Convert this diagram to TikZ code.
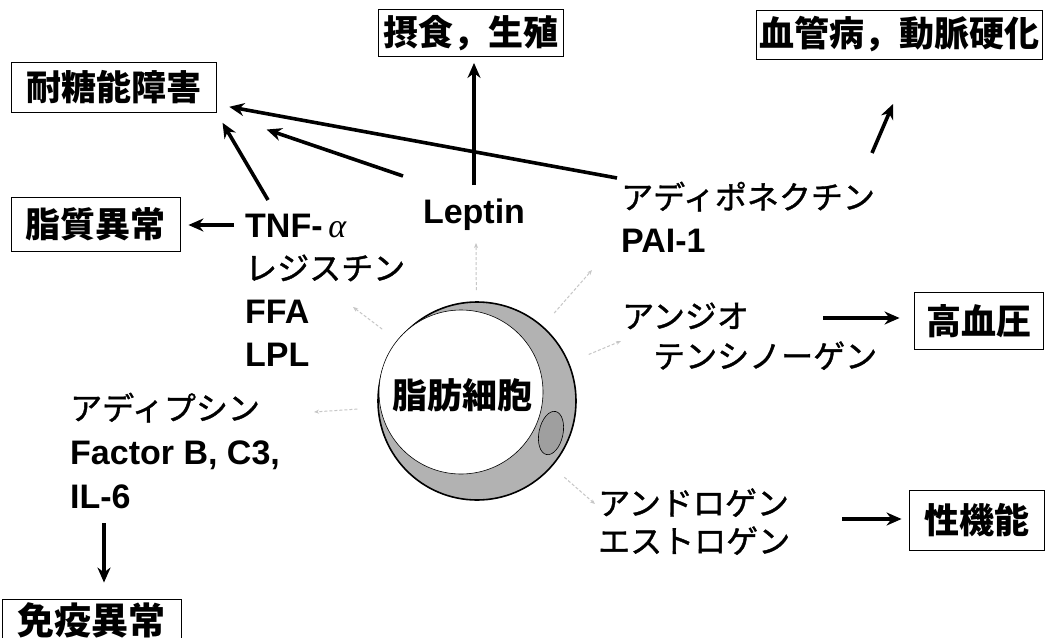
\documentclass[tikz,border=0pt]{standalone}
\usepackage{fontspec}
\setmainfont{Liberation Sans}
\newfontfamily\jp{Noto Sans CJK JP}
\newfontfamily\jpm{Noto Sans CJK JP}[FakeBold=1.2]
\newfontfamily\greek{Liberation Serif}
\usepackage{tikz}
\usetikzlibrary{arrows.meta,positioning,calc}

\newcommand{\kana}[1]{{\jpm\mdseries\fontsize{32}{32}\selectfont #1}}

\begin{document}
\begin{tikzpicture}[x=1pt, y=-1pt]
  % Define styles
  \tikzstyle{disease} = [rectangle, draw, line width=0.9pt, inner sep=0pt, font=\jp\bfseries\fontsize{35}{35}\selectfont]
  \tikzstyle{factor} = [anchor=base west, align=left, inner sep=0pt, font=\bfseries\fontsize{34}{43}\selectfont]
  \tikzstyle{arrow} = [line width=3.6pt, -{Stealth[length=15pt, width=13pt]}]
  \tikzstyle{faint} = [gray!45, line width=1pt, dash pattern=on 3pt off 2pt, -{Stealth[length=5pt, width=4pt]}]
  \tikzstyle{cellbody} = [circle, draw, line width=1.6pt, fill=gray!60, minimum size=198pt, inner sep=0pt, outer sep=0pt]

  \fill[white] (0,0) rectangle (1046,637);
  \useasboundingbox (0,0) rectangle (1046,637);

  % Diseases
  \node[disease, minimum width=205, minimum height=50] (taito) at (113.5,87) {耐糖能障害};
  \node[disease, minimum width=169, minimum height=54] (lipid) at (95.5,224) {脂質異常};
  \node[disease, minimum width=185, minimum height=47] (feeding) at (471,33) {摂食，生殖};
  \node[disease, minimum width=286, minimum height=49] (vessel) at (899,34.5) {血管病，動脈硬化};
  \node[disease, minimum width=129, minimum height=57] (pressure) at (978.5,321) {高血圧};
  \node[disease, minimum width=135, minimum height=60] (sexual) at (976.5,520) {性機能};
  \node[disease, minimum width=179, minimum height=42, font=\jp\bfseries\fontsize{37}{37}\selectfont] (immune) at (91.5,620) {免疫異常};

  % Adipocyte
  \node[cellbody] (cell) at (477,401) {};
  \draw[fill=white, line width=0.6pt] (461,392) circle (82pt);
  \draw[fill=gray!75, line width=0.6pt] (551,433) circle [x radius=12pt, y radius=22pt, rotate=-12];
  \node[font=\jp\bfseries\fontsize{35}{35}\selectfont] (celltext) at (462,395) {脂肪細胞};

  % Secreted factors (placed at the baseline of their last line)
  \node[factor] (tnf) at (245,366) {TNF-\,{\greek\mdseries\itshape α}\\\kana{レジスチン}\\FFA\\LPL};
  \node[factor, anchor=base] (leptin) at (474,223) {Leptin};
  \node[factor] (adipo) at (621,252) {\kana{アディポネクチン}\\PAI-1};
  \node[factor, font=\bfseries\fontsize{34}{40}\selectfont] (angio) at (622,368) {\kana{アンジオ}\\\hspace*{31pt}\kana{テンシノーゲン}};
  \node[factor, font=\bfseries\fontsize{34}{44}\selectfont] (adipsin) at (70,508) {\kana{アディプシン}\\Factor B, C3,\\IL-6};
  \node[factor, font=\bfseries\fontsize{34}{38}\selectfont] (andro) at (598,553) {\kana{アンドロゲン}\\\kana{エストロゲン}};

  % Arrow ends
  \coordinate (lepFrom) at (403,176);
  \coordinate (tnfFrom) at (268,200);
  \coordinate (tnfSide) at (234,225);
  \coordinate (adipoFrom) at (617,178);
  \coordinate (vesselFrom) at (872,153);
  \coordinate (vesselTo) at (893,104);
  \coordinate (angioFrom) at (823,318);
  \coordinate (androFrom) at (842,519);
  \coordinate (adipsinFrom) at (104,523);

  % Effects
  \draw[arrow, shorten <=13pt, shorten >=6pt] (leptin.north) -- (leptin.north |- feeding.south);
  \draw[arrow, shorten >=53pt] (lepFrom) -- (taito.south east);
  \draw[arrow, shorten >=12pt] (tnfFrom) -- (taito.south east);
  \draw[arrow, shorten >=13pt] (adipoFrom) -- ($(taito.south east)+(0,-8)$);
  \draw[arrow] (vesselFrom) -- (vesselTo);
  \draw[arrow, shorten >=8pt] (tnfSide) -- (tnfSide -| lipid.east);
  \draw[arrow, shorten >=14pt] (angioFrom) -- (angioFrom -| pressure.west);
  \draw[arrow, shorten >=7pt] (androFrom) -- (androFrom -| sexual.west);
  \draw[arrow, shorten >=16pt] (adipsinFrom) -- (adipsinFrom |- immune.north);

  % Secretion from the cell
  \coordinate (lepTip) at (476,243);
  \coordinate (tnfTip) at (353,307);
  \coordinate (adipoTip) at (592,270);
  \coordinate (angioTip) at (621,341);
  \coordinate (adipsinTip) at (314,412);
  \coordinate (androTip) at (595,504);
  \draw[faint, shorten <=12pt] (cell) -- (lepTip);
  \draw[faint, shorten <=20pt] (cell) -- (tnfTip);
  \draw[faint, shorten <=18pt] (cell) -- (adipoTip);
  \draw[faint, shorten <=22pt] (cell) -- (angioTip);
  \draw[faint, shorten <=21pt] (cell) -- (adipsinTip);
  \draw[faint, shorten <=17pt] (cell) -- (androTip);
\end{tikzpicture}
\end{document}
